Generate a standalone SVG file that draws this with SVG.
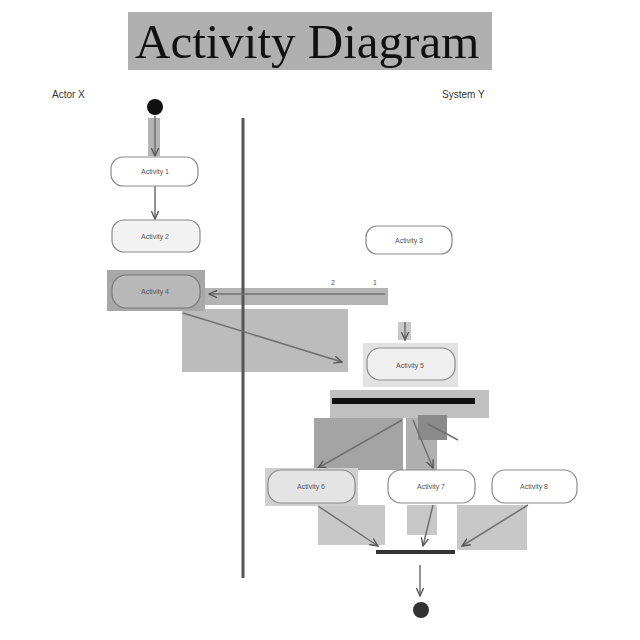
<svg xmlns="http://www.w3.org/2000/svg" width="640" height="640" viewBox="0 0 640 640">
<defs>
<style>
.node rect.act{fill:#fff;stroke:#8a8a8a;stroke-width:1.2}
.lbl{font-family:"Liberation Sans",Arial,sans-serif;font-size:7px;fill:#555;text-anchor:middle}
.lane{font-family:"Liberation Sans",Arial,sans-serif;font-size:10px;fill:#333}
.hl{fill:#b4b4b4}
.edge{stroke:#707070;stroke-width:1.5;fill:none;marker-end:url(#ah)}
.edgen{stroke:#707070;stroke-width:1.5;fill:none}
</style>
<marker id="ah" viewBox="0 0 10 10" refX="9" refY="5" markerWidth="6" markerHeight="6" orient="auto">
<path d="M0,1 L9,5 L0,9" fill="none" stroke="#555" stroke-width="1.5"/>
</marker>
</defs>
<rect width="640" height="640" fill="#fff"/>
<g id="title">
<rect x="128" y="12" width="364" height="58" fill="#b0b0b0"/>
<text x="135" y="58" font-family="'Liberation Serif','Times New Roman',serif" font-size="49" fill="#111">Activity Diagram</text>
</g>
<text class="lane" x="52" y="98">Actor X</text>
<text class="lane" x="442" y="98">System  Y</text>
<g id="highlights">
<rect class="hl" x="148" y="118" width="12" height="38"/>
<rect class="hl" x="205" y="288" width="183" height="17" fill="#c4c4c4"/>
<rect x="182" y="309" width="166" height="63" fill="#bcbcbc"/>
<rect x="398" y="322" width="13" height="18" fill="#c8c8c8"/>
<rect x="330" y="390" width="159" height="28" fill="#c0c0c0"/>
<rect x="314" y="418" width="89" height="52" fill="#a4a4a4"/>
<rect x="406" y="418" width="31" height="52" fill="#b0b0b0"/>
<rect x="418" y="415" width="29" height="25" fill="#8a8a8a"/>
<rect x="318" y="505" width="67" height="40" fill="#c8c8c8"/>
<rect x="407" y="505" width="30" height="30" fill="#c8c8c8"/>
<rect x="457" y="505" width="70" height="45" fill="#c8c8c8"/>
</g>
<line x1="243" y1="118" x2="243" y2="578" stroke="#555" stroke-width="3"/>
<g id="connectors">
<line class="edge" x1="155" y1="116" x2="155" y2="156"/>
<line class="edge" x1="155" y1="186" x2="155" y2="219"/>
<line class="edge" x1="385" y1="294" x2="209" y2="294"/>
<text class="lbl" x="333" y="285">2</text>
<text class="lbl" x="375" y="285">1</text>
<line class="edge" x1="183" y1="313" x2="342" y2="362"/>
<line class="edge" x1="405" y1="322" x2="405" y2="340"/>
<line class="edge" x1="402" y1="420" x2="318" y2="468"/>
<line class="edge" x1="413" y1="420" x2="433" y2="468"/>
<line class="edgen" x1="428" y1="424" x2="458" y2="440"/>
<line class="edge" x1="318" y1="506" x2="378" y2="546"/>
<line class="edge" x1="433" y1="505" x2="423" y2="546"/>
<line class="edge" x1="528" y1="505" x2="462" y2="546"/>
<line class="edge" x1="420" y1="565" x2="420" y2="596"/>
</g>
<g id="start"><circle cx="155" cy="107" r="8" fill="#111"/></g>
<g id="a1" class="node"><rect class="act" x="111" y="157" width="87" height="29" rx="12"/><text class="lbl" x="155" y="174">Activity 1</text></g>
<g id="a2" class="node"><rect class="act" x="112" y="220" width="88" height="32" rx="12" style="fill:#f2f2f2"/><text class="lbl" x="155" y="239">Activity 2</text></g>
<g id="a4" class="node"><rect x="107" y="270" width="98" height="41" fill="#a8a8a8"/><rect class="act" x="112" y="275" width="88" height="33" rx="14" style="fill:#b8b8b8;stroke:#777"/><text class="lbl" x="155" y="294">Activity 4</text></g>
<g id="a3" class="node"><rect class="act" x="366" y="226" width="86" height="28" rx="11"/><text class="lbl" x="409" y="243">Activity 3</text></g>
<g id="a5" class="node"><rect x="363" y="343" width="95" height="44" fill="#e2e2e2"/><rect class="act" x="367" y="348" width="88" height="32" rx="13" style="fill:#efefef"/><text class="lbl" x="410" y="368">Activity 5</text></g>
<g id="fork"><rect x="332" y="398" width="143" height="6" fill="#111"/></g>
<g id="a6" class="node"><rect x="265" y="468" width="93" height="38" fill="#d0d0d0"/><rect class="act" x="268" y="470" width="87" height="33" rx="13" style="fill:#e4e4e4"/><text class="lbl" x="311" y="489">Activity 6</text></g>
<g id="a7" class="node"><rect class="act" x="388" y="470" width="87" height="33" rx="13"/><text class="lbl" x="431" y="489">Activity 7</text></g>
<g id="a8" class="node"><rect class="act" x="492" y="470" width="85" height="33" rx="13"/><text class="lbl" x="534" y="489">Activity 8</text></g>
<g id="join"><rect x="376" y="550" width="79" height="4" fill="#333"/></g>
<g id="end"><circle cx="421" cy="610" r="8" fill="#333"/></g>
</svg>
